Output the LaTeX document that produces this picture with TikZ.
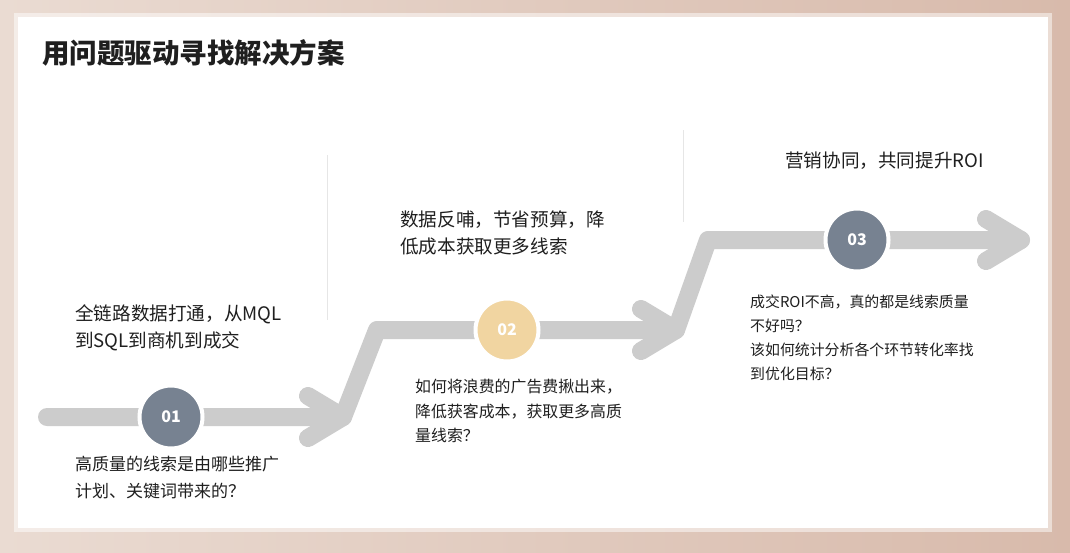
\documentclass[tikz,border=0pt]{standalone}
\usepackage{fontspec}
\setmainfont{Noto Sans CJK SC}
\usetikzlibrary{calc,positioning}
\definecolor{FlowInk}{HTML}{1F1F1F}
\definecolor{FlowTrack}{HTML}{CCCCCC}
\definecolor{FlowSlate}{HTML}{778291}
\definecolor{FlowSand}{HTML}{F1D5A1}
\definecolor{FlowRule}{HTML}{E6E6E6}
\definecolor{FlowBackL}{HTML}{EADBD2}
\definecolor{FlowBackR}{HTML}{D8BAAB}
\tikzset{
  every node/.style={text=FlowInk, inner sep=0pt},
  track/.style={draw=FlowTrack, line width=18pt, line cap=round, line join=round},
  stepdot/.style={circle, minimum size=63pt, draw=white, line width=4pt, text=white, font=\bfseries\fontsize{16}{16}\selectfont},
  headline/.style={anchor=north west, align=left, font=\fontsize{18.6}{27}\selectfont},
  question/.style={anchor=north west, align=left, font=\fontsize{17}{27}\selectfont},
  smallq/.style={anchor=north west, align=left, font=\fontsize{15.9}{24.5}\selectfont},
  tinyq/.style={anchor=north west, align=left, font=\fontsize{14.9}{24}\selectfont},
  guide/.style={draw=FlowRule, line width=1pt},
}

\begin{document}
\begin{tikzpicture}[x=1pt,y=-1pt]
  \useasboundingbox (0,0) rectangle (1070,552);
  % Backdrop and white card
  \shade[left color=FlowBackL, right color=FlowBackR] (0,0) rectangle (1070,552);
  \fill[white, opacity=0.5] (14,13) rectangle (1052,532);
  \fill[white] (18,17) rectangle (1048,528);
  % Title
  \node[anchor=north west, font=\bfseries\fontsize{27.5}{27.5}\selectfont] (title) at (42,39) {用问题驱动寻找解决方案};
  % Thin dividers
  \draw[guide] (327,155) -- (327,320);
  \draw[guide] (683,130) -- (683,222);
  % Track corners
  \coordinate (s1) at (47,417);
  \coordinate (k1) at (343,417);
  \coordinate (k2) at (377,330);
  \coordinate (k3) at (676,330);
  \coordinate (k4) at (708,240);
  \coordinate (k5) at (1021,240);
  \draw[track] (s1) -- (k1) -- (k2) -- (k3) -- (k4) -- (k5);
  % Chevron heads
  \foreach \k in {k1,k3,k5}
    \draw[track] ($(\k)+(-35,-21)$) -- (\k) -- ($(\k)+(-35,21)$);
  % Step dots
  \node[stepdot, fill=FlowSlate] (dot1) at (171,417) {01};
  \node[stepdot, fill=FlowSand] (dot2) at (507,330) {02};
  \node[stepdot, fill=FlowSlate] (dot3) at (857,240) {03};
  % Step 1 texts
  \node[headline] (head1) at (75,304) {全链路数据打通，从MQL\\到SQL到商机到成交};
  \node[question] (ask1) at (75,456) {高质量的线索是由哪些推广\\计划、关键词带来的？};
  % Step 2 texts
  \node[headline] (head2) at (400,211) {数据反哺，节省预算，降\\低成本获取更多线索};
  \node[smallq] (ask2) at (415,379) {如何将浪费的广告费揪出来，\\降低获客成本，获取更多高质\\量线索？};
  % Step 3 texts
  \node[headline] (head3) at (785,152) {营销协同，共同提升ROI};
  \node[tinyq] (ask3) at (750,295) {成交ROI不高，真的都是线索质量\\不好吗？\\该如何统计分析各个环节转化率找\\到优化目标？};
\end{tikzpicture}
\end{document}
